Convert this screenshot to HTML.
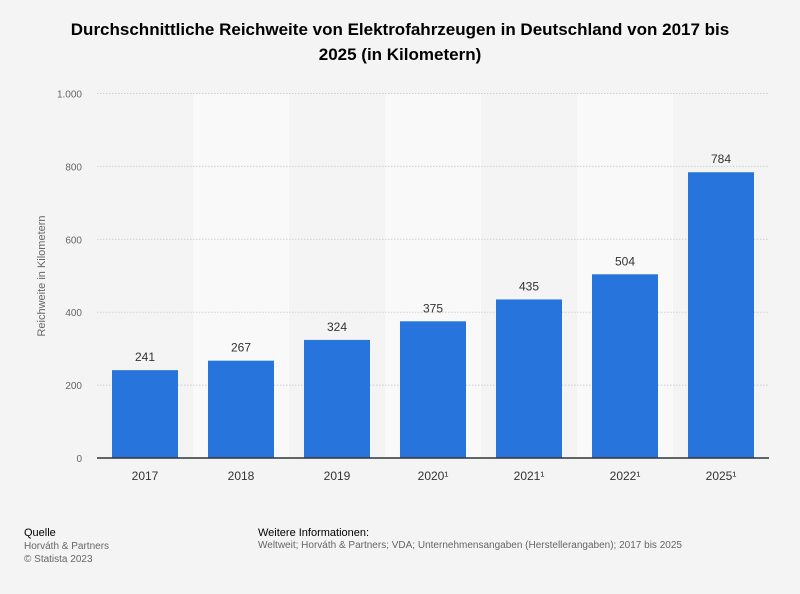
<!DOCTYPE html>
<html><head><meta charset="utf-8"><style>
body{margin:0;background:#f4f4f4;font-family:"Liberation Sans",sans-serif;}
#wrap{position:relative;width:800px;height:594px;overflow:hidden;background:#f4f4f4}
.t{position:absolute;}
</style></head><body>
<div id="wrap">
<div class="t" style="left:60px;top:17px;width:680px;text-align:center;font-weight:bold;font-size:17px;line-height:25px;color:#000">Durchschnittliche Reichweite von Elektrofahrzeugen in Deutschland von 2017 bis 2025 (in Kilometern)</div>
<svg id="chart" width="800" height="594" style="position:absolute;left:0;top:0"></svg>
<div class="t" style="left:24px;top:527px;font-size:11px;color:#000">Quelle</div>
<div class="t" style="left:24px;top:540px;font-size:10px;line-height:13px;color:#666">Horváth &amp; Partners<br>© Statista 2023</div>
<div class="t" style="left:258px;top:527px;font-size:11px;color:#000">Weitere Informationen:</div>
<div class="t" style="left:258px;top:540px;font-size:10px;color:#666">Weltweit; Horváth &amp; Partners; VDA; Unternehmensangaben (Herstellerangaben); 2017 bis 2025</div>
</div>
<script>
const categories=["2017","2018","2019","2020¹","2021¹","2022¹","2025¹"];
const values=[241,267,324,375,435,504,784];
const yTicks=[0,200,400,600,800,1000];
const yTickLabels=["0","200","400","600","800","1.000"];
const NS="http://www.w3.org/2000/svg";
const svg=document.getElementById('chart');
const x0=97,bandW=96,yBase=458,yTop=93.5,yMax=1000;
const y=v=>yBase-(v/yMax)*(yBase-yTop);
const xBand=i=>x0+i*bandW;
function mk(tag,attrs){const e=document.createElementNS(NS,tag);for(const k in attrs)e.setAttribute(k,attrs[k]);svg.appendChild(e);return e;}
categories.forEach((c,i)=>{if(i%2==1){const r=mk('rect',{x:xBand(i),y:yTop,width:bandW,height:yBase-yTop,fill:'#f9f9f9'});

}});
yTicks.forEach((t,i)=>{
 if(t>0){const l=mk('line',{x1:x0,x2:769,y1:y(t),y2:y(t),stroke:'#cfcfcf','stroke-dasharray':'1.5,1.5'});
 
 }
 const tx=mk('text',{x:82,y:y(t)+4,'text-anchor':'end','font-size':'10','fill':'#666','font-family':'Liberation Sans'});
 tx.textContent=yTickLabels[i];
 
 
});
const yt=mk('text',{x:0,y:0,transform:'translate(45,276) rotate(-90)','text-anchor':'middle','font-size':'11','fill':'#666','font-family':'Liberation Sans'});
yt.textContent='Reichweite in Kilometern';


categories.forEach((c,i)=>{
 const bx=xBand(i)+15,bw=66;
 const r=mk('rect',{x:bx,y:y(values[i]),width:bw,height:yBase-y(values[i]),fill:'#2775dc'});
 
 
 const v=mk('text',{x:bx+bw/2,y:y(values[i])-9,'text-anchor':'middle','font-size':'12','fill':'#333','font-family':'Liberation Sans'});
 v.textContent=values[i];
 
 
 const l=mk('text',{x:bx+bw/2,y:480,'text-anchor':'middle','font-size':'12','fill':'#333','font-family':'Liberation Sans'});
 l.textContent=c;
 
 
});
const ax=mk('line',{x1:x0,x2:769,y1:yBase,y2:yBase,stroke:'#333','stroke-width':'1.5'});


</script>
</body></html>
